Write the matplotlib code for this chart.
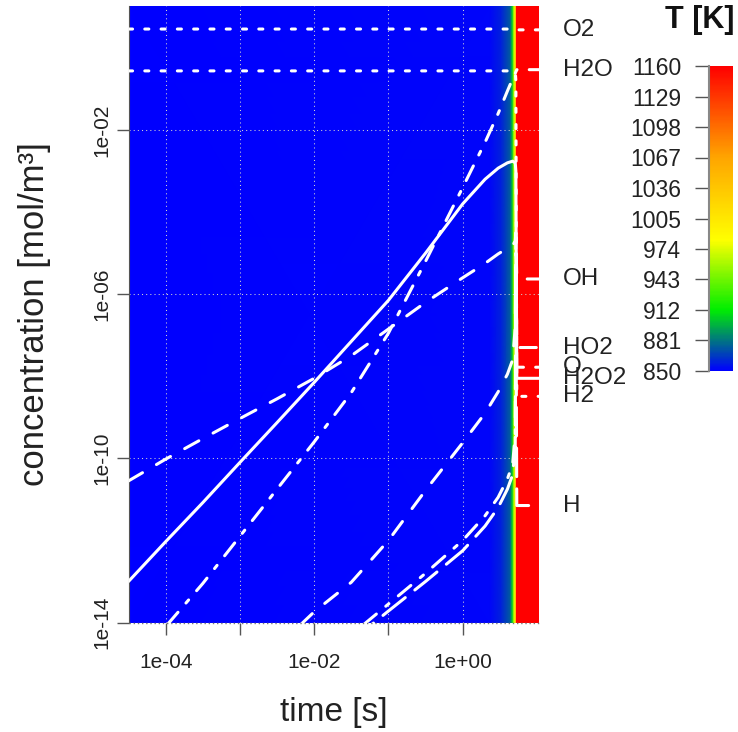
import numpy as np
import matplotlib
matplotlib.use('Agg')
import matplotlib.pyplot as plt
from matplotlib import transforms
from matplotlib.colors import LinearSegmentedColormap, Normalize
from matplotlib.ticker import NullLocator

plt.rcParams['font.family'] = ['Liberation Sans', 'DejaVu Sans']

# shared time grid [s]
time_s = [3.16e-5, 1e-4, 3.16e-4, 1e-3, 3.16e-3, 1e-2, 3.16e-2, 0.1, 0.316, 1.0,
          2.0, 3.0, 4.0, 4.7, 5.1, 5.2, 5.35, 10.65]

# log10 of concentration [mol/m3] at each time (nan = below the plot)
nan = np.nan
log_O2 = [0.46, 0.46, 0.46, 0.46, 0.46, 0.46, 0.46, 0.46, 0.46, 0.46,
          0.46, 0.46, 0.46, 0.46, 0.46, 0.46, 0.44, 0.44]
log_H2 = [-0.56, -0.56, -0.56, -0.56, -0.56, -0.56, -0.56, -0.56, -0.56, -0.56,
          -0.56, -0.56, -0.56, -0.56, -0.58, -0.8, -8.49, -8.49]
log_H2O = [-15.2, -14.1, -13.05, -11.9, -10.75, -9.6, -8.4, -6.95, -5.2, -3.4,
           -2.3, -1.6, -1.05, -0.75, -0.62, -0.58, -0.53, -0.53]
log_H2O2 = [-13.0, -12.03, -11.08, -10.1, -9.13, -8.15, -7.15, -6.15, -5.0, -3.8,
            -3.2, -2.93, -2.8, -2.76, -2.8, -3.0, -8.05, -8.05]
log_HO2 = [-10.55, -10.02, -9.52, -9.03, -8.55, -8.05, -7.5, -6.85, -6.2, -5.6,
           -5.25, -5.02, -4.88, -4.82, -4.7, -4.5, -7.3, -7.3]
log_OH = [nan, nan, nan, nan, -14.6, -13.74, -13.02, -12.0, -10.78, -9.62,
          -8.9, -8.38, -7.95, -7.6, -6.8, -4.6, -5.63, -5.63]
log_O = [nan, nan, nan, nan, nan, nan, -14.3, -13.55, -12.8, -12.0,
         -11.4, -10.95, -10.5, -10.15, -9.4, -5.0, -7.78, -7.78]
log_H = [nan, nan, nan, nan, nan, nan, -14.45, -13.72, -13.0, -12.25,
         -11.65, -11.2, -10.75, -10.4, -9.7, -5.5, -11.15, -11.15]

species = ['O2', 'H2O', 'OH', 'HO2', 'O', 'H2O2', 'H2', 'H']
series = {'O2': log_O2, 'H2O': log_H2O, 'OH': log_OH, 'HO2': log_HO2,
          'O': log_O, 'H2O2': log_H2O2, 'H2': log_H2, 'H': log_H}

# temperature along time (background)
bg_time = [3.16e-5, 2.3, 3.3, 4.36, 4.64, 4.86, 5.09, 5.2, 5.3, 10.65]
bg_temp = [850, 852, 859, 875, 902, 950, 1000, 1030, 1160, 1160]
temp_ticks = [850, 881, 912, 943, 974, 1005, 1036, 1067, 1098, 1129, 1160]

y_min, y_max = 1e-14, 10.5

# R-like line types, lengths in units of line width
dotted = (0, (1.33, 4))
dashed = (0, (5.3, 5.3))
dotdash = (0, (1.33, 4, 5.33, 4))
longdash = (0, (9.33, 4))
styles = {'O2': dotted, 'H2': dotted, 'H2O': dotdash, 'H2O2': '-',
          'HO2': dashed, 'OH': dashed, 'O': dotdash, 'H': longdash}

cmap = LinearSegmentedColormap.from_list(
    'temp', [(0.0, '#0000ff'), (0.2, '#00ee00'), (0.43, '#ffff00'),
             (0.7, '#ffa500'), (1.0, '#ff0000')])
norm = Normalize(vmin=850, vmax=1160)

fig = plt.figure(figsize=(7.38, 7.32), dpi=100)
ax = fig.add_axes([128.5 / 738, 1 - 622.5 / 732, 410.5 / 738, 616.5 / 732])
ax.set_xscale('log')
ax.set_yscale('log')

# temperature background
n = len(bg_time)
X = np.array([bg_time, bg_time])
Y = np.array([[y_min] * n, [y_max] * n])
C = np.array([bg_temp, bg_temp])
mesh = ax.pcolormesh(X, Y, C, shading='gouraud', cmap=cmap, norm=norm, zorder=0)

# species curves
t = np.array(time_s)
for sp in species:
    c = 10.0 ** np.array(series[sp])
    ax.plot(t, c, color='white', lw=2.2, ls=styles[sp],
            dash_capstyle='round', solid_capstyle='round', zorder=3)

ax.set_xlim(time_s[0], time_s[-1])
ax.set_ylim(y_min, y_max)

ax.set_xticks([1e-4, 1e-3, 1e-2, 1e-1, 1])
ax.set_xticklabels(['1e-04', '', '1e-02', '', '1e+00'])
ax.set_yticks([1e-14, 1e-10, 1e-6, 1e-2])
ax.set_yticklabels(['1e-14', '1e-10', '1e-06', '1e-02'])
ax.xaxis.set_minor_locator(NullLocator())
ax.yaxis.set_minor_locator(NullLocator())
for lab in ax.get_yticklabels():
    lab.set_rotation(90)
    lab.set_va('center')

ax.grid(True, color='lightgray', ls=(0, (1, 3)), lw=0.75)
ax.tick_params(axis='both', length=8.6, width=1, color='#555555',
               labelsize=15, labelcolor='#222222')
ax.tick_params(axis='x', pad=13)
ax.tick_params(axis='y', pad=4)

for s in ['top', 'right', 'bottom']:
    ax.spines[s].set_visible(False)
ax.spines['left'].set_color('#555555')
ax.axhline(y_min, color='#777777', ls=(0, (1, 2)), lw=1, clip_on=False, zorder=4)

fig.text(333.5 / 738, 1 - 712 / 732, 'time [s]', ha='center', va='center',
         fontsize=24, color='#222222')
fig.text(35 / 738, 1 - 314 / 732, 'concentration [mol/m³]', ha='center',
         va='center', rotation=90, fontsize=25, color='#222222')

# species names at their final value
trans = transforms.blended_transform_factory(ax.transAxes, ax.transData)
for sp in species:
    ax.text(1.058, 10.0 ** series[sp][-1], sp, transform=trans, ha='left',
            va='center', fontsize=17.5, color='#222222', clip_on=False)

# colour bar
cax = fig.add_axes([709 / 738, 1 - 371 / 732, 24 / 738, 305 / 732])
cb = fig.colorbar(mesh, cax=cax)
cb.outline.set_visible(False)
cb.set_ticks(temp_ticks)
cax.yaxis.set_ticks_position('left')
cax.tick_params(length=10, width=1, color='#555555', labelsize=16.5,
                labelcolor='#222222', pad=10)
cax.plot([0, 0], [0, 1], transform=cax.transAxes, color='#888888', lw=1.5,
         clip_on=False)

fig.text(700 / 738, 1 - 20 / 732, 'T [K]', ha='center', va='center',
         fontsize=22, fontweight='bold', color='#111111')

fig.savefig('out.png', dpi=100)
